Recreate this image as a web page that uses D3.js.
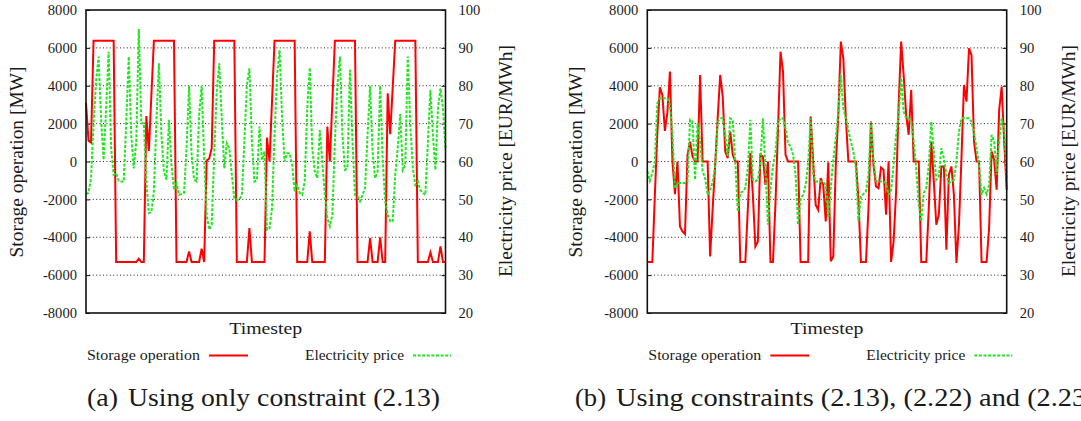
<!DOCTYPE html>
<html><head><meta charset="utf-8">
<script src="https://cdn.jsdelivr.net/npm/d3@7"></script>
<style>
html,body{margin:0;padding:0;background:#fff;}
svg{display:block;}
text{font-family:"Liberation Serif","Times New Roman",serif;fill:#1a1a1a;}
</style></head><body>
<svg id="chart" width="1081" height="421"></svg>
<script>
// Hourly storage dispatch [MW] and electricity price [EUR/MWh], 144 timesteps per run.
const storageA = [3100,1100,1000,6380,6380,6380,6380,6380,6380,6380,6380,6380,
  -5310,-5310,-5310,-5310,-5310,-5310,-5310,-5310,-5310,-5130,-5310,-5310,
  2400,560,3470,6380,6380,6380,6380,6380,6380,6380,6380,6380,
  -5310,-5310,-5310,-5310,-5310,-4745,-5310,-5310,-5310,-5310,-4600,-5310,
  50,150,700,6380,6380,6380,6380,6380,6380,6380,6380,6380,
  -5310,-5310,-5310,-5310,-5310,-3515,-5310,-5310,-5310,-5310,-5310,-5310,
  1265,0,3200,6380,6380,6380,6380,6380,6380,6380,6380,6380,
  -5310,-5310,-5310,-5310,-5310,-3690,-5310,-5310,-5310,-5310,-5310,-5310,
  1845,0,3200,6380,6380,6380,6380,6380,6380,6380,6380,6380,
  -5310,-5310,-5310,-5310,-5310,-4040,-5310,-5310,-5310,-4000,-5310,-5310,
  3600,1440,3900,6380,6380,6380,6380,6380,6380,6380,6380,6380,
  -5310,-5310,-5310,-5310,-5310,-4800,-5310,-5310,-5310,-4480,-5310,-5310];

const priceA = [51.4,51.7,55.6,69.7,81.1,87.7,71.4,60.4,74.1,89.0,63.5,56.5,
  56.9,54.9,54.7,54.7,70.5,87.7,67.0,58.2,65.3,95.0,70.1,70.1,
  54.7,46.4,46.6,52.1,70.5,85.9,67.0,57.4,55.2,71.0,59.1,52.5,
  54.3,51.2,51.4,51.7,63.5,80.0,61.8,55.2,54.7,72.3,80.0,60.9,
  45.9,42.0,43.3,61.8,78.5,85.9,71.4,58.2,64.8,63.5,56.5,50.3,
  49.9,49.9,51.2,65.3,80.2,84.6,65.3,54.7,55.2,69.2,60.4,62.6,
  42.0,42.4,47.7,67.0,82.8,89.4,71.4,60.0,62.2,62.2,59.1,52.1,
  53.8,51.7,51.2,54.7,74.1,84.8,63.5,57.4,55.6,68.3,60.0,51.2,
  45.1,42.9,45.9,65.3,80.2,87.7,67.0,57.8,58.2,84.2,65.3,51.2,
  50.8,49.5,51.2,53.0,67.0,80.0,62.6,55.6,57.4,80.0,60.9,49.5,
  45.9,44.2,44.2,56.5,63.5,72.5,57.8,59.1,87.7,69.7,58.2,53.8,
  54.7,52.5,51.7,51.2,65.3,78.9,67.0,57.8,74.1,79.3,74.1,63.1];

const storageB = [-5307,-5307,-5307,-1800,1500,3920,3500,1620,2600,4750,0,-1720,
  0,-3430,-3690,-3830,350,1050,250,0,0,4570,0,0,
  0,-5010,-2500,-200,2300,4570,3430,530,180,1580,350,0,
  0,-5307,-5307,-5307,-2500,440,-1760,-4480,-4220,350,260,-1230,
  0,-5307,-5307,-2200,1700,5800,4750,350,0,0,0,0,
  0,-5307,-5307,-5307,-5307,2370,0,-2290,-2550,-880,-1230,-3160,
  -40,-5270,-5010,-180,2460,6330,5450,2290,0,0,0,0,
  -2000,-5307,-5307,-5307,-2500,2110,-180,-1320,-1410,-320,-440,-2810,
  0,-5307,-4220,-1580,3000,6330,4570,2460,1410,3780,0,0,
  0,-5307,-5307,-5307,-2460,1050,-1050,-3340,-2810,-260,-260,-4660,
  -700,-260,-1760,-5360,-3340,180,4040,3160,5980,5620,1050,0,
  0,-5307,-5307,-5307,-3500,530,90,-1490,2720,3950,1050,-1490];

const priceB = [57.4,54.9,56.9,60.0,75.4,76.7,76.7,76.7,76.7,74.9,67.0,53.0,
  54.3,54.3,54.3,54.3,54.7,71.0,70.5,55.2,70.1,65.3,57.5,55.6,
  51.2,52.5,54.6,58.7,70.5,71.4,71.4,67.0,61.3,71.4,71.0,60.0,
  46.8,51.7,52.1,53.0,58.2,71.0,55.2,54.7,55.2,59.6,71.4,58.2,
  43.3,53.0,58.7,62.6,70.5,71.4,71.4,68.8,64.8,64.0,61.8,56.5,
  43.3,50.3,51.2,53.8,59.6,71.4,56.9,54.7,54.7,54.7,54.7,53.8,
  45.1,53.0,60.4,66.2,73.2,82.8,74.1,71.4,68.3,65.3,62.6,58.2,
  44.2,50.8,51.4,52.1,56.5,70.5,60.0,54.9,54.7,54.7,54.7,54.3,
  51.2,52.5,59.1,67.0,72.3,82.0,73.2,71.4,71.4,70.5,65.3,58.2,
  48.6,44.2,51.7,53.0,59.1,70.5,62.6,55.2,56.0,63.5,60.9,56.5,
  54.3,54.7,55.2,60.0,67.9,71.4,71.4,71.4,71.4,70.5,67.5,63.5,
  59.1,51.2,53.0,51.4,53.8,67.0,65.3,56.5,65.3,71.4,68.8,55.2];

const storageTicks = [-8000,-6000,-4000,-2000,0,2000,4000,6000,8000];
const priceTicks = [20,30,40,50,60,70,80,90,100];
const seriesNames = ["Storage operation","Electricity price"];
const axisTitles = ["Timestep","Storage operation [MW]","Electricity price [EUR/MWh]"];
const captions = [
  {tag:"(a)", text:"Using only constraint (2.13)"},
  {tag:"(b)", text:"Using constraints (2.13), (2.22) and (2.23)"}
];

const RED = "#ff0000", GREEN = "#1fe61f";

const panels = [
  {storage: storageA, price: priceA, x0: 86, x1: 445.5, leftTitleX: 17, rightTitleX: 506.5,
   tagX: 87, capX: 128, capStretch: 1, cap: captions[0]},
  {storage: storageB, price: priceB, x0: 647.3, x1: 1006.7, leftTitleX: 576.5, rightTitleX: 1069.5,
   tagX: 575, capX: 616, capStretch: 1.025, cap: captions[1]}
];

const svg = d3.select("#chart");
const plotTop = 10, plotBottom = 313;
const capScale = {sx: null};
const plainNumber = d => String(d);

// Stretch a text element horizontally to a target width.
function fitWidth(sel, w) {
  sel.attr("textLength", w).attr("lengthAdjust", "spacingAndGlyphs");
  return sel;
}

panels.forEach((p, pi) => {
  const x = d3.scaleLinear().domain([0, p.storage.length - 1]).range([p.x0, p.x1]);
  const yS = d3.scaleLinear().domain([-8000, 8000]).range([plotBottom, plotTop]);
  const yP = d3.scaleLinear().domain([20, 100]).range([plotBottom, plotTop]);
  const g = svg.append("g");

  // dotted horizontal grid
  g.append("g").selectAll("line")
    .data(storageTicks.filter(t => t > -8000 && t < 8000))
    .join("line")
    .attr("x1", p.x0).attr("x2", p.x1)
    .attr("y1", d => yS(d)).attr("y2", d => yS(d))
    .attr("stroke", "#222").attr("stroke-width", 1)
    .attr("stroke-dasharray", "1,2.4");

  // left axis (storage)
  const left = g.append("g").attr("transform", `translate(${p.x0},0)`)
    .call(d3.axisLeft(yS).tickValues(storageTicks).tickFormat(plainNumber)
      .tickSizeInner(-4).tickSizeOuter(0).tickPadding(9));
  // right axis (price)
  const right = g.append("g").attr("transform", `translate(${p.x1},0)`)
    .call(d3.axisRight(yP).tickValues(priceTicks).tickFormat(plainNumber)
      .tickSizeInner(-4).tickSizeOuter(0).tickPadding(13));
  [left, right].forEach(a => {
    a.select(".domain").remove();
    a.selectAll(".tick line").attr("stroke", "#111").attr("stroke-width", 1);
    a.selectAll(".tick text").attr("font-size", 14.6).attr("font-family", "Liberation Serif, serif").attr("fill", "#1a1a1a");
  });

  // series lines
  const lineS = d3.line().x((d, i) => x(i)).y(d => yS(d));
  const lineP = d3.line().x((d, i) => x(i)).y(d => yP(d));
  g.append("path").datum(p.storage).attr("d", lineS)
    .attr("fill", "none").attr("stroke", RED).attr("stroke-width", 2).attr("stroke-linejoin", "miter");
  g.append("path").datum(p.price).attr("d", lineP)
    .attr("fill", "none").attr("stroke", GREEN).attr("stroke-width", 2)
    .attr("stroke-dasharray", "3,1.6");

  // plot frame
  g.append("rect").attr("x", p.x0).attr("y", plotTop).attr("width", p.x1 - p.x0).attr("height", plotBottom - plotTop)
    .attr("fill", "none").attr("stroke", "#111").attr("stroke-width", 1.6);

  // axis titles
  const cx = (p.x0 + p.x1) / 2;
  fitWidth(g.append("text").attr("x", cx).attr("y", 334).attr("text-anchor", "middle")
    .attr("font-size", 17.5).text(axisTitles[0]), 73);
  fitWidth(g.append("text").attr("transform", `translate(${p.leftTitleX},162) rotate(-90)`)
    .attr("text-anchor", "middle").attr("dy", "0.33em").attr("font-size", 18).text(axisTitles[1]), 191);
  fitWidth(g.append("text").attr("transform", `translate(${p.rightTitleX},161) rotate(-90)`)
    .attr("text-anchor", "middle").attr("dy", "0.33em").attr("font-size", 18).text(axisTitles[2]), 232);

  // key
  const ly = 355.5, lb = 360;
  fitWidth(g.append("text").attr("x", p.x0 + 1).attr("y", lb).attr("font-size", 14.5).text(seriesNames[0]), 113);
  g.append("line").attr("x1", p.x0 + 123).attr("x2", p.x0 + 162).attr("y1", ly).attr("y2", ly)
    .attr("stroke", RED).attr("stroke-width", 2);
  fitWidth(g.append("text").attr("x", p.x0 + 219).attr("y", lb).attr("font-size", 14.5).text(seriesNames[1]), 99);
  g.append("line").attr("x1", p.x0 + 327).attr("x2", p.x0 + 365).attr("y1", ly).attr("y2", ly)
    .attr("stroke", GREEN).attr("stroke-width", 2).attr("stroke-dasharray", "3,1.6");

  // sub-caption
  fitWidth(g.append("text").attr("x", p.tagX).attr("y", 406).attr("font-size", 25).attr("fill", "#111").text(p.cap.tag), 31);
  const cap = g.append("text").attr("x", p.capX).attr("y", 406).attr("font-size", 25).attr("fill", "#111").text(p.cap.text);
  const nat = cap.node().getComputedTextLength();
  if (capScale.sx === null) capScale.sx = 312 / nat;
  fitWidth(cap, nat * capScale.sx * p.capStretch);
});
</script>
</body></html>
